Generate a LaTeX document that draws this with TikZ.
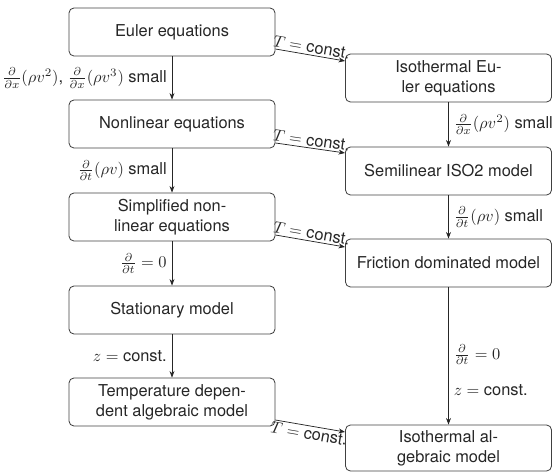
\documentclass[tikz,border=0pt]{standalone}
\usepackage{amsmath}
\usepackage{fontspec}
\setmainfont{TeX Gyre Heros}
\usepackage{tikz}
\usetikzlibrary{arrows.meta, calc}

\begin{document}
\begin{tikzpicture}[x=0.61pt, y=-0.61pt,
    box/.style={draw=black!75, rounded corners=3pt, line width=0.5pt, align=center,
        minimum width=206*0.61pt, minimum height=48*0.61pt, inner sep=1pt, text=black!85},
    arr/.style={-{Stealth[length=4pt, width=3pt]}, line width=0.45pt, draw=black!85},
    lbl/.style={text=black!85, inner sep=3pt}]
    \useasboundingbox (0,0) rectangle (552,472);
    \node[box] (euler) at (172,32) {Euler equations};
    \node[box] (nonlin) at (172,124) {Nonlinear equations};
    \node[box] (simpl) at (172,217) {Simplified non-\\linear equations};
    \node[box] (stat) at (172,310) {Stationary model};
    \node[box] (tempdep) at (172,402) {Temperature depen-\\dent algebraic model};
    \node[box] (isoeuler) at (448.5,78) {Isothermal Eu-\\ler equations};
    \node[box] (semilin) at (448.5,171) {Semilinear ISO2 model};
    \node[box] (friction) at (448.5,263) {Friction dominated model};
    \node[box, minimum height=46*0.61pt] (isoalg) at (448.5,448) {Isothermal al-\\gebraic model};
    \draw[arr] (euler) -- node[lbl, left] {$\frac{\partial}{\partial x}(\rho v^2)$, $\frac{\partial}{\partial x}(\rho v^3)$ small} (nonlin);
    \draw[arr] (nonlin) -- node[lbl, left] {$\frac{\partial}{\partial t}(\rho v)$ small} (simpl);
    \draw[arr] (simpl) -- node[lbl, left] {$\frac{\partial}{\partial t} = 0$} (stat);
    \draw[arr] (stat) -- node[lbl, left] {$z = \text{const.}$} (tempdep);
    \draw[arr] (isoeuler) -- node[lbl, right] {$\frac{\partial}{\partial x}(\rho v^2)$ small} (semilin);
    \draw[arr] (semilin) -- node[lbl, right] {$\frac{\partial}{\partial t}(\rho v)$ small} (friction);
    \draw[arr] (friction) -- node[lbl, right, pos=0.49] {$\frac{\partial}{\partial t} = 0$}
        node[lbl, right, pos=0.75] {$z = \text{const.}$} (isoalg);
    \draw[arr] ($(euler.east)+(0,17)$) -- node[lbl, sloped, above, inner sep=1pt] {$T = \text{const.}$} ($(isoeuler.west)+(0,-17)$);
    \draw[arr] ($(nonlin.east)+(0,19)$) -- node[lbl, sloped, above, inner sep=1pt] {$T = \text{const.}$} ($(semilin.west)+(0,-18)$);
    \draw[arr] ($(simpl.east)+(0,18)$) -- node[lbl, sloped, above, inner sep=1pt] {$T = \text{const.}$} ($(friction.west)+(0,-16)$);
    \draw[arr] ($(tempdep.east)+(0,18)$) -- node[lbl, sloped, below, inner sep=1pt] {$T = \text{const.}$} ($(isoalg.west)+(0,-16)$);
\end{tikzpicture}
\end{document}
